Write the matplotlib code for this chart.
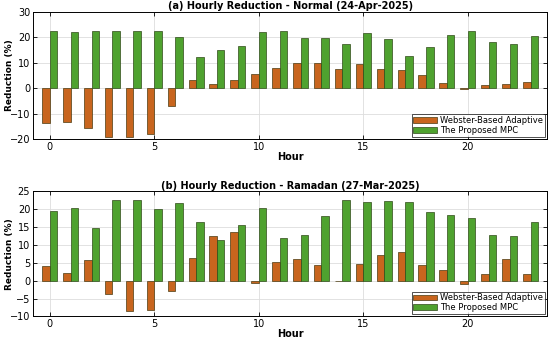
import numpy as np
import matplotlib.pyplot as plt

hours = np.arange(24)

# (a) Normal day, 24-Apr-2025
web_normal = [-13.6, -13.4, -15.8, -19.0, -19.0, -17.8, -7.0, 3.2, 1.8, 3.4, 5.6, 7.9,
              9.9, 10.0, 7.7, 9.4, 7.5, 7.1, 5.1, 1.9, -0.4, 1.3, 1.8, 2.5]
mpc_normal = [22.5, 22.3, 22.5, 22.5, 22.5, 22.5, 20.1, 12.1, 14.9, 16.5, 22.1, 22.5,
              19.7, 19.7, 17.4, 21.6, 19.5, 12.5, 16.1, 21.0, 22.6, 18.3, 17.4, 20.6]

# (b) Ramadan day, 27-Mar-2025
web_ramadan = [4.0, 2.1, 5.7, -3.6, -8.5, -8.2, -3.0, 6.3, 12.4, 13.6, -0.7, 5.1,
               6.1, 4.4, -0.1, 4.6, 7.2, 8.1, 4.5, 2.9, -0.9, 1.8, 6.1, 1.9]
mpc_ramadan = [19.5, 20.4, 14.6, 22.6, 22.6, 20.0, 21.6, 16.4, 11.5, 15.7, 20.2, 12.0,
               12.9, 18.2, 22.6, 22.0, 22.2, 22.0, 19.1, 18.4, 17.4, 12.7, 12.6, 16.5]

titles = ["(a) Hourly Reduction - Normal (24-Apr-2025)",
          "(b) Hourly Reduction - Ramadan (27-Mar-2025)"]
ylims = [(-20, 30), (-10, 25)]
yticks = [np.arange(-20, 31, 10), np.arange(-10, 26, 5)]

c_web = "#C8651E"
c_mpc = "#4FA22F"
w = 0.36

fig = plt.figure(figsize=(5.5, 3.41), dpi=100)
ax1 = fig.add_axes([0.06, 0.592, 0.935, 0.373])
ax2 = fig.add_axes([0.06, 0.072, 0.935, 0.367])

for ax, web, mpc, t, yl, yt in zip([ax1, ax2], [web_normal, web_ramadan],
                                   [mpc_normal, mpc_ramadan], titles, ylims, yticks):
    ax.bar(hours - w / 2, web, w, color=c_web, edgecolor="#4a3a10", linewidth=0.5,
           label="Webster-Based Adaptive", zorder=3)
    ax.bar(hours + w / 2, mpc, w, color=c_mpc, edgecolor="#2f4a18", linewidth=0.5,
           label="The Proposed MPC", zorder=3)
    ax.set_xlim(-0.8, 23.8)
    ax.set_ylim(*yl)
    ax.set_yticks(yt)
    ax.set_xticks([0, 5, 10, 15, 20])
    ax.grid(True, color="#dddddd", linewidth=0.6, zorder=0)
    ax.tick_params(labelsize=7, direction="in", top=True, right=True, length=3, width=0.6,
                   pad=2)
    ax.set_title(t, fontsize=7, fontweight="bold", pad=2)
    ax.set_ylabel("Reduction (%)", fontsize=6.5, fontweight="bold")
    ax.yaxis.set_label_coords(-0.036, 0.5)
    ax.set_xlabel("Hour", fontsize=7, fontweight="bold", labelpad=0)
    for s in ax.spines.values():
        s.set_linewidth(0.7)
    leg = ax.legend(loc="lower right", fontsize=6, frameon=True, fancybox=False,
                    edgecolor="black", borderpad=0.2, handlelength=2.8,
                    handleheight=0.7, labelspacing=0.1, borderaxespad=0.3,
                    handletextpad=0.4)
    leg.get_frame().set_linewidth(0.6)

fig.savefig("out.png", dpi=100)
